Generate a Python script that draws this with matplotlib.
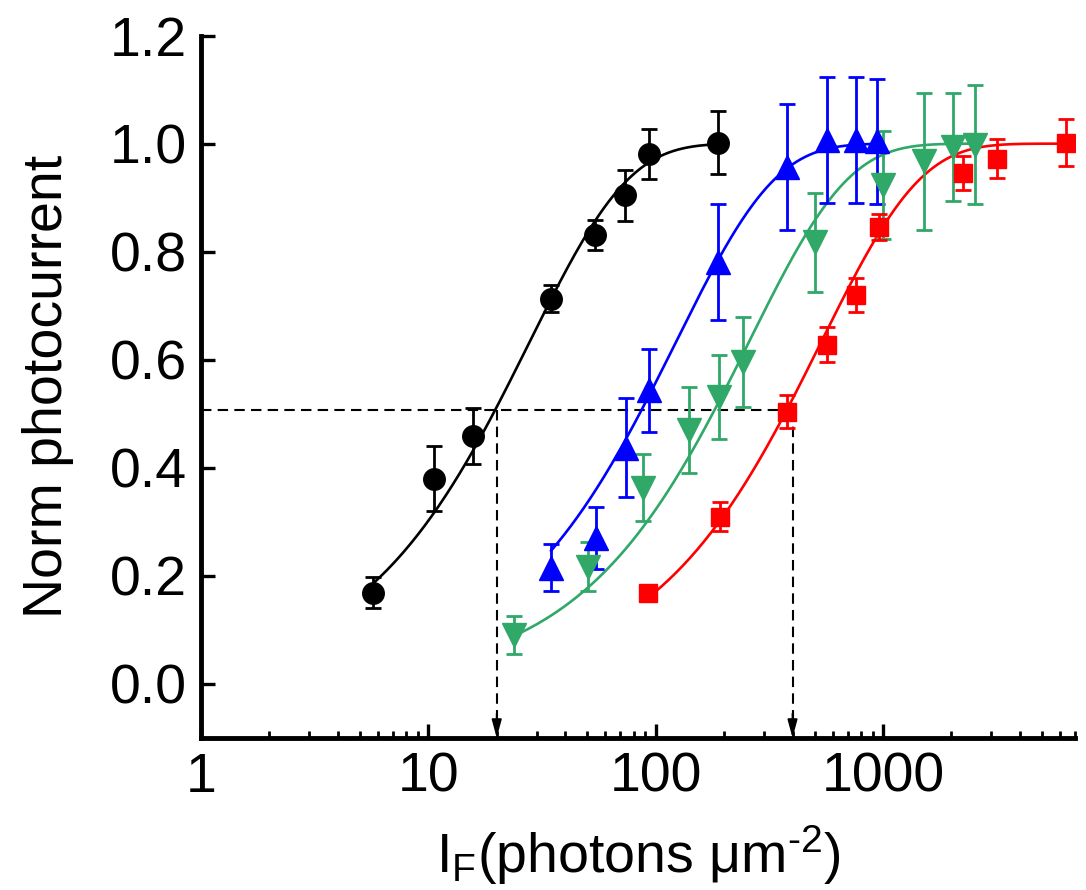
import matplotlib
matplotlib.use("Agg")

import matplotlib.pyplot as plt
import numpy as np

plt.rcParams["font.family"] = ["Liberation Sans", "DejaVu Sans"]
plt.rcParams["mathtext.fontset"] = "custom"
plt.rcParams["mathtext.rm"] = "Liberation Sans"
plt.rcParams["mathtext.default"] = "regular"

# data (x in photons um^-2, y normalised)
BLACK_X = [5.71, 10.6, 15.7, 34.7, 54.1, 73.3, 93.5, 188.0]
BLACK_Y = [0.169, 0.380, 0.459, 0.713, 0.831, 0.904, 0.981, 1.002]
BLACK_ERR = [0.029, 0.061, 0.052, 0.025, 0.027, 0.048, 0.047, 0.059]

BLUE_X = [34.7, 54.7, 74.1, 93.5, 188.0, 378.0, 568.0, 762.0, 942.0]
BLUE_Y = [0.215, 0.270, 0.437, 0.543, 0.781, 0.957, 1.007, 1.007, 1.004]
BLUE_ERR = [0.044, 0.058, 0.092, 0.077, 0.107, 0.117, 0.116, 0.116, 0.115]

GREEN_X = [23.8, 50.4, 88.1, 140.0, 190.0, 243.0, 503.0, 1000.0, 1517.0, 2033.0, 2541.0]
GREEN_Y = [0.091, 0.217, 0.363, 0.470, 0.531, 0.596, 0.817, 0.924, 0.967, 0.994, 0.998]
GREEN_ERR = [0.035, 0.045, 0.062, 0.080, 0.078, 0.083, 0.092, 0.100, 0.127, 0.100, 0.110]

RED_X = [92.6, 192.0, 378.0, 568.0, 762.0, 961.0, 2250.0, 3176.0, 6395.0]
RED_Y = [0.169, 0.309, 0.504, 0.628, 0.720, 0.846, 0.946, 0.972, 1.002]
RED_ERR = [0.012, 0.027, 0.031, 0.032, 0.032, 0.024, 0.032, 0.036, 0.044]

# half-saturation intensities of the fitted saturating-exponential curves
HALF_SAT = {"black": 19.3, "blue": 85.0, "green": 178.0, "red": 370.0}

HALF_LEVEL = 0.507
HALF_MARKS = [20.0, 400.0]

GREEN = "#2fa868"

SERIES = [
    (BLACK_X, BLACK_Y, BLACK_ERR, "black", "black", "o", 15.5),
    (BLUE_X, BLUE_Y, BLUE_ERR, "blue", "#0000ff", "^", 17),
    (GREEN_X, GREEN_Y, GREEN_ERR, "green", GREEN, "v", 17),
    (RED_X, RED_Y, RED_ERR, "red", "#ff0000", "s", 13),
]


def saturating_curve(x, half):
    return 1.0 - np.exp(-np.log(2.0) * x / half)


fig = plt.figure(figsize=(10.86, 8.90), dpi=100)
ax = fig.add_axes([0.185, 0.171, 0.805, 0.789])

for xs, ys, errs, key, color, marker, ms in SERIES:
    xfit = np.logspace(np.log10(min(xs)), np.log10(max(xs)), 300)
    ax.plot(xfit, saturating_curve(xfit, HALF_SAT[key]), color=color, lw=1.9, zorder=2)
    ax.errorbar(xs, ys, yerr=errs, fmt=marker, color=color, ms=ms, mec=color,
                elinewidth=2.0, capsize=6, capthick=2.0, zorder=3)

# dashed guide lines with arrows down to the axis
ax.plot([1.0, HALF_MARKS[1]], [HALF_LEVEL, HALF_LEVEL], color="black", lw=1.5,
        ls=(0, (5, 3)), zorder=1)
for xm in HALF_MARKS:
    ax.plot([xm, xm], [HALF_LEVEL, -0.07], color="black", lw=1.5,
            ls=(0, (5, 3)), zorder=1)
    ax.annotate("", xy=(xm, -0.1), xytext=(xm, -0.055),
                arrowprops=dict(arrowstyle="-|>,head_length=1.1,head_width=0.3",
                                color="black", lw=1.3, shrinkA=0, shrinkB=0))

ax.set_xscale("log")
ax.set_xlim(1, 7000)
ax.set_ylim(-0.1, 1.2)
ax.set_yticks(np.arange(0.0, 1.21, 0.2))
ax.set_yticklabels([f"{v:.1f}" for v in np.arange(0.0, 1.21, 0.2)])
ax.set_xticks([1, 10, 100, 1000])
ax.set_xticklabels(["1", "10", "100", "1000"])

for side in ("top", "right"):
    ax.spines[side].set_visible(False)
for side in ("left", "bottom"):
    ax.spines[side].set_linewidth(3.5)
ax.spines["left"].set_bounds(-0.1, 1.2)

ax.tick_params(which="major", direction="in", length=10, width=2.4,
               labelsize=40, pad=10)
ax.tick_params(which="minor", direction="in", length=5, width=2.0)
ax.tick_params(axis="y", which="minor", left=False)

ax.set_xlabel(r"I$_{F}$(photons μm$^{\text{-2}}$)", fontsize=40, labelpad=14)
ax.set_ylabel("Norm photocurrent", fontsize=40, labelpad=26)

fig.savefig("out.png", dpi=100)
